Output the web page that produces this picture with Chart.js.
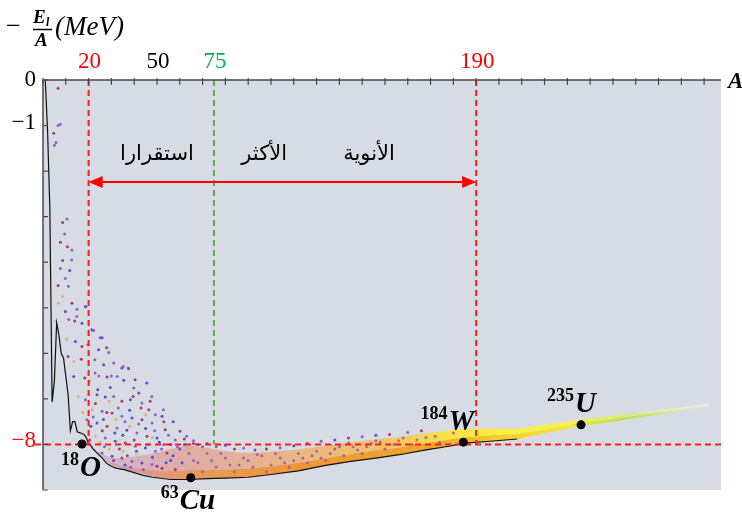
<!DOCTYPE html>
<html>
<head>
<meta charset="utf-8">
<script src="https://cdn.jsdelivr.net/npm/chart.js@4.4.0/dist/chart.umd.min.js"></script>
<style>
    html, body { margin: 0; padding: 0; background: #fff; }
    #wrap { width: 742px; height: 517px; }
</style>
</head>
<body>
<div id="wrap"><canvas id="chart" width="742" height="517"></canvas></div>
<script>
// lowest curve (most bound isobar), A vs -E/A in MeV
const lineA = [1,2,3,4,5,6,7,8,9,10,11,12,13,14,15,16,17,18,19,20,21,22,24,26,28,30,32,36,40,44,48,56,64,72,80,90,100,112,124,135,146,157,168,178,185,196,208];
const lineE = [0,-1.11,-2.83,-7.07,-6.6,-5.33,-5.6,-6.0,-6.1,-6.5,-6.9,-7.7,-7.5,-7.5,-7.72,-7.74,-7.76,-7.78,-7.85,-8.0,-8.03,-8.1,-8.2,-8.3,-8.42,-8.48,-8.52,-8.56,-8.62,-8.68,-8.72,-8.77,-8.77,-8.75,-8.74,-8.72,-8.66,-8.58,-8.46,-8.37,-8.3,-8.22,-8.12,-8.04,-7.97,-7.93,-7.88];

// dense band of nuclei
const bandA     = [24,30,36,42,50,56,64,72,80,90,100,112,124,135,146,157,168,178,185,196,208,220,235,250,265,280,292];
const bandLower = [-8.2,-8.45,-8.56,-8.62,-8.73,-8.76,-8.76,-8.75,-8.74,-8.72,-8.66,-8.58,-8.46,-8.37,-8.3,-8.22,-8.12,-8.04,-7.97,-7.93,-7.88,-7.76,-7.6,-7.5,-7.38,-7.26,-7.16];
const bandMid   = [-8.18,-8.4,-8.48,-8.52,-8.57,-8.58,-8.56,-8.55,-8.55,-8.53,-8.48,-8.4,-8.3,-8.21,-8.13,-8.06,-7.97,-7.89,-7.84,-7.8,-7.77,-7.67,-7.53,-7.44,-7.33,-7.23,-7.13];
const bandUpper = [-8.15,-8.3,-8.3,-8.25,-8.18,-8.1,-8.02,-8.08,-8.15,-8.19,-8.16,-8.11,-8.03,-7.95,-7.89,-7.83,-7.76,-7.7,-7.66,-7.66,-7.66,-7.57,-7.46,-7.37,-7.28,-7.19,-7.1];

// scattered nuclei above the band [A, -E/A]
const purpleDots = [[6.6,-1.0],[7.6,-0.97],[5.7,-1.37],[5.0,-1.43],[10.5,-3.05],[9.5,-3.38],[12.7,-3.73],[7.6,-4.14],[12.6,-3.95],[9.8,-4.36],[11.1,-4.53],[14.9,-5.03],[22.2,-5.5],[11.3,-5.26],[19.7,-5.81],[28.8,-5.98],[22.7,-6.14],[31.0,-6.21],[22.9,-6.43],[32.5,-6.51],[39.8,-6.76],[18.6,-7.02],[31.0,-6.95],[43.4,-7.09],[49.3,-7.35],[25.9,-7.27],[34.6,-7.38],[47.8,-7.53],[19.3,-7.46],[32.5,-7.64],[41.2,-7.75],[27.3,-7.86],[40.5,-8.04],[49.3,-8.15],[25.9,-8.19],[39.0,-8.37],[47.8,-8.44],[63.0,-7.82],[52.8,-7.24],[47.7,-6.95],[37.4,-6.32],[35.2,-6.29],[25.0,-5.66],[18.9,-4.98],[14.8,-5.19],[58,-7.9],[70,-8.05],[53,-8.0],[44,-8.55],
    [22,-7.4],[24.5,-6.5],[27,-8.05],[30,-6.5],[33,-7.2],[36,-7.5],[38.5,-8.5],[42,-7.55],[46,-8.0],[49,-7.7],[52,-8.1],[55,-7.8],[59,-8.05],[66,-7.92],[76,-8.05],[88,-8.08],[104,-8.07],[122,-7.93],[140,-7.83],[160,-7.74]];
const blueDots = [[8.6,-3.96],[11.7,-4.18],[18.6,-4.97],[9.8,-5.08],[17.1,-5.34],[25.9,-5.66],[14.2,-5.74],[24.4,-5.92],[26.6,-6.25],[34.6,-6.32],[13.5,-6.51],[35.4,-6.59],[42.0,-6.87],[27.3,-6.96],[38.3,-7.02],[52.2,-7.38],[39.0,-7.42],[23.7,-7.53],[36.8,-7.69],[50.0,-7.86],[31.7,-7.93],[44.9,-8.08],[30.3,-8.26],[43.4,-8.41],[57.1,-7.5],[45.5,-6.65],[21.4,-5.48],[62,-8.0],[60,-8.1],[36,-8.45],[56,-8.35],
    [21,-7.6],[24,-6.8],[26.5,-7.45],[29.5,-6.75],[31.5,-7.75],[35,-7.8],[38,-7.25],[41,-8.15],[45,-7.65],[48,-8.28],[51,-7.95],[54,-8.4],[57,-8.25],[61,-8.4],[68,-8.0],[80,-8.02],[93,-8.12],[110,-8.03],[128,-7.9],[146,-7.8]];
const redDots = [[6.6,-0.18],[4.7,-1.17],[8.6,-3.13],[7.6,-3.56],[10.7,-3.66],[6.6,-4.51],[12.7,-4.9],[13.9,-5.29],[17.1,-5.85],[11.0,-6.07],[16.8,-6.13],[37.6,-6.34],[18.3,-6.54],[28.1,-6.52],[23.7,-6.91],[34.6,-7.05],[46.4,-7.24],[30.3,-7.31],[43.4,-7.46],[53.6,-7.68],[28.1,-7.6],[45.6,-7.82],[36.1,-7.97],[54.4,-8.19],[34.6,-8.3],[52.2,-8.52],[60.1,-7.71],[40.4,-6.58],[27.9,-5.88],[66,-7.98],[56,-8.0],
    [20.5,-7.9],[23,-7.1],[26,-7.7],[28,-7.3],[31,-8.35],[33.5,-8.1],[37,-8.25],[39.5,-6.95],[40,-7.9],[43,-7.2],[47,-7.05],[50,-8.48],[53,-7.5],[58,-8.55],[62,-7.88],[72,-7.98],[84,-8.1],[98,-8.1],[116,-7.98],[134,-7.86],[152,-7.78],[166,-7.7]];
const peachDots = [[8.6,-4.75],[6.7,-4.9],[5.7,-5.3],[10.5,-5.69],[13.5,-6.18],[15.4,-6.95],[21.5,-7.24],[22.9,-7.82],[17.5,-7.3],[20.5,-6.6],[29,-8.1],[41,-8.2],
    [25,-7.95],[29,-7.05],[32,-7.45],[35,-8.15],[38,-7.6],[42,-8.35],[45,-7.35],[48,-7.85],[51,-8.3],[55,-8.55],[60,-8.3],[64,-8.1]];
const bandDots = [[64,-8.2],[68,-8.4],[72,-8.2],[76,-8.5],[80,-8.3],[84,-8.6],[88,-8.3],[92,-8.5],[96,-8.25],[100,-8.45],[104,-8.3],[108,-8.5],[112,-8.2],[116,-8.4],[120,-8.15],[124,-8.35],[128,-8.1],[132,-8.25],[136,-8.05],[140,-8.2],[144,-7.98],[150,-8.1],[156,-7.92],[162,-8.0],[168,-7.85],[174,-7.95],[180,-7.75],[70,-8.6],[86,-8.45],[98,-8.6],[110,-8.35],[122,-8.3],[134,-7.97],[146,-7.92],[158,-7.86],
    [66,-8.35],[74,-8.35],[78,-8.2],[82,-8.45],[90,-8.35],[94,-8.22],[102,-8.2],[106,-8.4],[114,-8.3],[118,-8.25],[126,-8.2],[130,-8.05],[138,-8.12],[142,-8.05],[148,-7.95],[154,-8.0],[164,-7.9],[172,-7.82]];

// labelled nuclei
const nuclideMass = ['18', '63', '184', '235'];
const nuclideSymbol = ['O', 'Cu', 'W', 'U'];
const nuclideA = [17.1, 64.8, 184.4, 236];
const nuclideE = [-7.99, -8.73, -7.95, -7.57];

// axis marks
const topLabels = [20, 50, 75, 190];
const topLabelColors = ['#ff0000', '#000000', '#00b050', '#ff0000'];
const sideLabels = [0, -1, -8];
const sideLabelColors = ['#000000', '#000000', '#ff0000'];

const labelOffsets = [[-2, 32], [-11, 31], [-15, -12], [-6, -13]];

function pts(xs, ys) {
    return xs.map((a, i) => ({ x: a, y: ys[i] }));
}
function pairs(list) {
    return list.map(p => ({ x: p[0], y: p[1] }));
}

function hGradient(chart, stops) {
    const area = chart.chartArea;
    if (!area) return 'rgba(235,165,80,0.8)';
    const xs = chart.scales.x;
    const g = chart.ctx.createLinearGradient(area.left, 0, area.right, 0);
    stops.forEach(s => {
        const off = (xs.getPixelForValue(s[0]) - area.left) / (area.right - area.left);
        g.addColorStop(Math.min(1, Math.max(0, off)), s[1]);
    });
    return g;
}

const lowerStops = [[24,'rgba(200,140,170,0.7)'],[45,'rgba(222,140,120,0.85)'],[70,'rgba(232,150,80,0.95)'],[110,'rgba(236,150,55,1)'],[170,'rgba(240,165,45,1)'],[200,'rgba(245,205,40,1)'],[230,'rgba(245,230,60,1)'],[255,'rgba(190,220,80,1)'],[275,'rgba(215,230,140,1)'],[292,'rgba(235,238,220,1)']];
const upperStops = [[24,'rgba(205,160,200,0.6)'],[60,'rgba(222,165,160,0.85)'],[100,'rgba(232,175,130,0.9)'],[150,'rgba(240,195,100,0.95)'],[175,'rgba(248,225,70,1)'],[200,'rgba(250,240,60,1)'],[230,'rgba(245,240,80,1)'],[255,'rgba(215,235,120,1)'],[292,'rgba(240,240,230,1)']];

const NAMED_INDEX = 9;

const decorations = {
    id: 'decorations',
    beforeDraw(chart) {
        const { ctx, chartArea: a } = chart;
        ctx.save();
        ctx.fillStyle = '#d7dce4';
        ctx.fillRect(a.left, a.top, a.right - a.left, a.bottom - a.top);
        ctx.restore();
    },
    beforeDatasetDraw(chart, args) {
        if (args.index !== NAMED_INDEX) return;
        const { ctx, chartArea: a } = chart;
        const px = v => chart.scales.x.getPixelForValue(v);
        const py = v => chart.scales.y.getPixelForValue(v);
        ctx.save();
        ctx.lineWidth = 2;
        ctx.setLineDash([6, 4]);
        // -8 level
        ctx.strokeStyle = '#ff1a1a';
        ctx.beginPath();
        ctx.moveTo(35, py(-8));
        ctx.lineTo(a.right, py(-8));
        ctx.stroke();
        // A = 20 and A = 190
        [20, 190].forEach(v => {
            ctx.beginPath();
            ctx.moveTo(px(v), a.top);
            ctx.lineTo(px(v), py(-8));
            ctx.stroke();
        });
        // A = 75
        ctx.strokeStyle = '#6aaa3e';
        ctx.beginPath();
        ctx.moveTo(px(75), a.top);
        ctx.lineTo(px(75), py(-8));
        ctx.stroke();
        ctx.setLineDash([]);

        // double arrow between 20 and 190
        const ay = py(-2.24), x1 = px(20), x2 = px(190);
        ctx.strokeStyle = '#ff0000';
        ctx.fillStyle = '#ff0000';
        ctx.lineWidth = 2;
        ctx.beginPath();
        ctx.moveTo(x1 + 10, ay);
        ctx.lineTo(x2 - 10, ay);
        ctx.stroke();
        ctx.beginPath();
        ctx.moveTo(x1, ay); ctx.lineTo(x1 + 14, ay - 6); ctx.lineTo(x1 + 14, ay + 6); ctx.closePath();
        ctx.fill();
        ctx.beginPath();
        ctx.moveTo(x2, ay); ctx.lineTo(x2 - 14, ay - 6); ctx.lineTo(x2 - 14, ay + 6); ctx.closePath();
        ctx.fill();

        // arabic caption
        ctx.fillStyle = '#000';
        ctx.font = '21px "DejaVu Sans"';
        ctx.textAlign = 'center';
        ctx.textBaseline = 'alphabetic';
        ctx.fillText('استقرارا', px(50), py(-1.75));
        ctx.fillText('الأكثر', px(97), py(-1.75));
        ctx.fillText('الأنوية', px(143), py(-1.75));
        ctx.restore();
    },
    afterDraw(chart) {
        const { ctx, chartArea: a } = chart;
        const px = v => chart.scales.x.getPixelForValue(v);
        const py = v => chart.scales.y.getPixelForValue(v);
        ctx.save();
        // axes
        ctx.strokeStyle = '#4a4a4a';
        ctx.lineWidth = 1.5;
        ctx.beginPath();
        ctx.moveTo(a.left, a.top); ctx.lineTo(a.right, a.top);
        ctx.moveTo(a.left, a.top); ctx.lineTo(a.left, a.bottom);
        ctx.stroke();
        ctx.lineWidth = 1.2;
        ctx.beginPath();
        for (let v = 0; v <= 290; v += 10) {
            ctx.moveTo(px(v), a.top - 2); ctx.lineTo(px(v), a.top + 5);
        }
        for (let v = 0; v >= -9; v -= 1) {
            ctx.moveTo(a.left, py(v)); ctx.lineTo(a.left + 5, py(v));
        }
        ctx.stroke();

        // tick labels
        ctx.font = '23px "Liberation Serif"';
        ctx.textAlign = 'center';
        ctx.textBaseline = 'middle';
        topLabels.forEach((v, i) => {
            ctx.fillStyle = topLabelColors[i];
            ctx.fillText(String(v), px(v) + 1, a.top - 18);
        });
        ctx.textAlign = 'right';
        ctx.font = '23px "Liberation Serif"';
        sideLabels.forEach((v, i) => {
            ctx.fillStyle = sideLabelColors[i];
            const t = v === 0 ? '0' : '\u2212' + Math.abs(v);
            ctx.fillText(t, a.left - 7, py(v) - (v === 0 ? 0 : 3));
        });

        // axis titles
        ctx.fillStyle = '#000';
        ctx.textBaseline = 'alphabetic';
        ctx.textAlign = 'left';
        ctx.font = '26px "Liberation Serif"';
        ctx.fillText('\u2212', 6, 34);
        ctx.font = 'bold italic 19px "Liberation Serif"';
        ctx.fillText('E', 33, 23);
        ctx.font = 'bold italic 12px "Liberation Serif"';
        ctx.fillText('l', 46, 26);
        ctx.font = 'bold italic 19px "Liberation Serif"';
        ctx.fillText('A', 35, 46);
        ctx.lineWidth = 1.5;
        ctx.strokeStyle = '#000';
        ctx.beginPath(); ctx.moveTo(33, 29.5); ctx.lineTo(52, 29.5); ctx.stroke();
        ctx.font = 'italic 27px "Liberation Serif"';
        ctx.fillText('(MeV)', 55, 35);
        ctx.font = 'bold italic 23px "Liberation Serif"';
        ctx.fillText('A', 728, 88);

        // nuclide labels
        nuclideA.forEach((v, i) => {
            const bx = px(v) + labelOffsets[i][0];
            const by = py(nuclideE[i]) + labelOffsets[i][1];
            ctx.textAlign = 'left';
            ctx.font = 'bold italic 29px "Liberation Serif"';
            ctx.fillText(nuclideSymbol[i], bx, by);
            ctx.textAlign = 'right';
            ctx.font = 'bold 18px "Liberation Serif"';
            ctx.fillText(nuclideMass[i], bx - 1, by - 11);
        });
        ctx.restore();
    }
};

function dotSet(list, color) {
    return {
        data: pairs(list), showLine: false, pointRadius: 1.5, pointBorderWidth: 0,
        pointBackgroundColor: color, borderColor: color, order: 3
    };
}

new Chart(document.getElementById('chart'), {
    type: 'line',
    data: {
        datasets: [
            { data: pts(bandA, bandLower), borderWidth: 0, pointRadius: 0, fill: false, order: 8 },
            { data: pts(bandA, bandMid), borderWidth: 0, pointRadius: 0, fill: '-1', order: 7,
              backgroundColor: c => hGradient(c.chart, lowerStops) },
            { data: pts(bandA, bandUpper), borderWidth: 0, pointRadius: 0, fill: '-1', order: 6,
              backgroundColor: c => hGradient(c.chart, upperStops) },
            dotSet(bandDots, 'rgba(165,85,165,0.85)'),
            dotSet(peachDots, 'rgba(230,170,110,0.95)'),
            dotSet(purpleDots, 'rgba(140,80,200,0.9)'),
            dotSet(blueDots, 'rgba(60,70,210,0.9)'),
            dotSet(redDots, 'rgba(170,40,80,0.9)'),
            { data: pts(lineA, lineE), borderColor: '#111', borderWidth: 1.2, pointRadius: 0,
              fill: false, tension: 0, order: 2 },
            { data: pts(nuclideA, nuclideE), showLine: false, pointRadius: 4.5,
              pointBackgroundColor: '#000', pointBorderWidth: 0, order: 0 }
        ]
    },
    options: {
        responsive: false,
        animation: false,
        devicePixelRatio: 1,
        layout: { padding: { left: 43, top: 80, right: 21, bottom: 27 } },
        scales: {
            x: { type: 'linear', min: 0, max: 297.4, display: false },
            y: { type: 'linear', min: -9, max: 0, display: false }
        },
        plugins: { legend: { display: false }, tooltip: { enabled: false } }
    },
    plugins: [decorations]
});
</script>
</body>
</html>
